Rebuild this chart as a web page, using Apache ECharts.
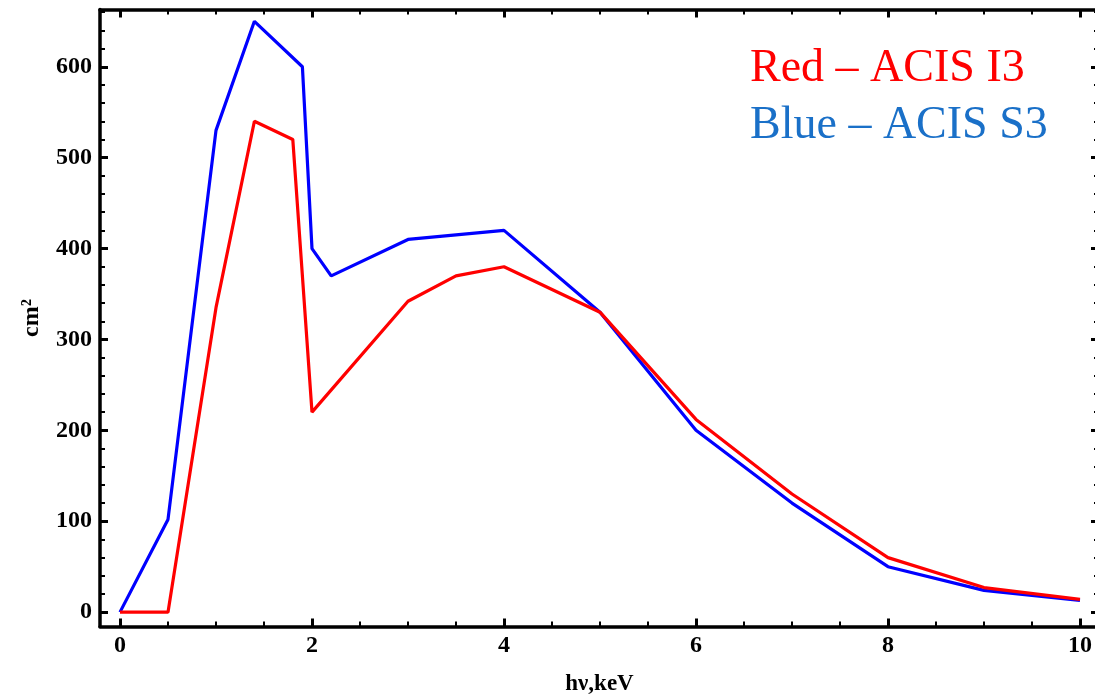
<!DOCTYPE html>
<html>
<head>
<meta charset="utf-8">
<script src="https://cdn.jsdelivr.net/npm/echarts@6/dist/echarts.min.js"></script>
<style>
  html, body { margin: 0; padding: 0; background: #fff; }
  #chart { width: 1095px; height: 698px; }
</style>
</head>
<body>
<div id="chart"></div>
<script>
// Effective area vs photon energy for two ACIS chips
const blueEnergy = [0, 0.5, 1.0, 1.4, 1.9, 2.0, 2.2, 3.0, 3.5, 4.0, 5.0, 6.0, 7.0, 8.0, 9.0, 10.0];
const blueArea   = [0, 102, 530, 650, 600, 400, 370, 410, 415, 420, 330, 200, 120, 50, 24, 13];

const redEnergy  = [0, 0.5, 1.0, 1.4, 1.8, 2.0, 3.0, 3.5, 4.0, 5.0, 6.0, 7.0, 8.0, 9.0, 10.0];
const redArea    = [0, 0, 335, 540, 520, 220, 342, 370, 380, 330, 212, 130, 60, 27, 14];

const xTickLabels = [0, 2, 4, 6, 8, 10];
const yTickLabels = [0, 100, 200, 300, 400, 500, 600];

const xName = 'hν,keV';
const yName = 'cm²';
const legendRed = 'Red – ACIS I3';
const legendBlue = 'Blue – ACIS S3';

// axis extents (frame sits slightly outside the data range)
const X_MIN = -0.2083, X_MAX = 10.198;
const Y_MIN = -15.8, Y_MAX = 663;

function minorValues(from, to, step, majorStep) {
  const out = [];
  for (let v = from; v <= to + 1e-9; v += step) {
    const r = Math.round(v * 1000) / 1000;
    if (Math.abs(r / majorStep - Math.round(r / majorStep)) > 1e-6) out.push(r);
  }
  return out;
}
const xMinor = minorValues(0, 10, 0.5, 2);
const yMinor = minorValues(0, 660, 20, 100);

const pair = (xs, ys) => xs.map((x, i) => [x, ys[i]]);

const labelFont = {
  fontFamily: 'Liberation Serif',
  fontWeight: 'bold',
  fontSize: 24,
  color: '#000'
};

function makeX(position, ticks, len, width, withLine, withLabels) {
  return {
    type: 'value', position: position, min: X_MIN, max: X_MAX,
    splitLine: { show: false },
    axisLine: { show: withLine, onZero: false, lineStyle: { color: '#000', width: 3.5 } },
    axisTick: { show: true, inside: true, length: len, customValues: ticks,
                lineStyle: { color: '#000', width: width } },
    axisLabel: withLabels
      ? Object.assign({ show: true, margin: 7, customValues: xTickLabels }, labelFont)
      : { show: false }
  };
}
function makeY(position, ticks, len, width, withLine, withLabels) {
  return {
    type: 'value', position: position, min: Y_MIN, max: Y_MAX,
    splitLine: { show: false },
    axisLine: { show: withLine, onZero: false, lineStyle: { color: '#000', width: 3.5 } },
    axisTick: { show: true, inside: true, length: len, customValues: ticks,
                lineStyle: { color: '#000', width: width } },
    axisLabel: withLabels
      ? Object.assign({ show: true, margin: 8, customValues: yTickLabels }, labelFont)
      : { show: false }
  };
}

const xAxes = [
  makeX('bottom', xTickLabels, 8, 3, true, true),
  makeX('bottom', xMinor, 5, 2, false, false),
  makeX('top', xTickLabels, 8, 3, true, false),
  makeX('top', xMinor, 5, 2, false, false)
];
xAxes[0].name = xName;
xAxes[0].nameLocation = 'middle';
xAxes[0].nameGap = 46;
xAxes[0].nameTextStyle = Object.assign({}, labelFont, { fontSize: 23 });

const yAxes = [
  makeY('left', yTickLabels, 8, 3, true, true),
  makeY('left', yMinor, 5, 2, false, false),
  makeY('right', yTickLabels, 8, 3, true, false),
  makeY('right', yMinor, 5, 2, false, false)
];
yAxes[0].name = yName;
yAxes[0].nameLocation = 'middle';
yAxes[0].nameGap = 56;
yAxes[0].nameTextStyle = Object.assign({}, labelFont, { fontSize: 24 });

const chart = echarts.init(document.getElementById('chart'), null, { renderer: 'canvas' });
chart.setOption({
  backgroundColor: '#fff',
  animation: false,
  grid: { left: 100, top: 9.5, width: 999, height: 617, containLabel: false, outerBoundsMode: 'none' },
  xAxis: xAxes,
  yAxis: yAxes,
  graphic: [
    { type: 'text', left: 750, top: 46,
      style: { text: legendRed, fill: '#ff0000', font: '46px "Liberation Serif"' } },
    { type: 'text', left: 750, top: 103,
      style: { text: legendBlue, fill: '#1a70c8', font: '46px "Liberation Serif"' } }
  ],
  series: [
    { name: 'ACIS S3', type: 'line', xAxisIndex: 0, yAxisIndex: 0,
      data: pair(blueEnergy, blueArea), showSymbol: false,
      lineStyle: { color: '#0000ff', width: 3.2 }, itemStyle: { color: '#0000ff' } },
    { name: 'ACIS I3', type: 'line', xAxisIndex: 0, yAxisIndex: 0,
      data: pair(redEnergy, redArea), showSymbol: false,
      lineStyle: { color: '#ff0000', width: 3.2 }, itemStyle: { color: '#ff0000' } }
  ]
});
</script>
</body>
</html>
